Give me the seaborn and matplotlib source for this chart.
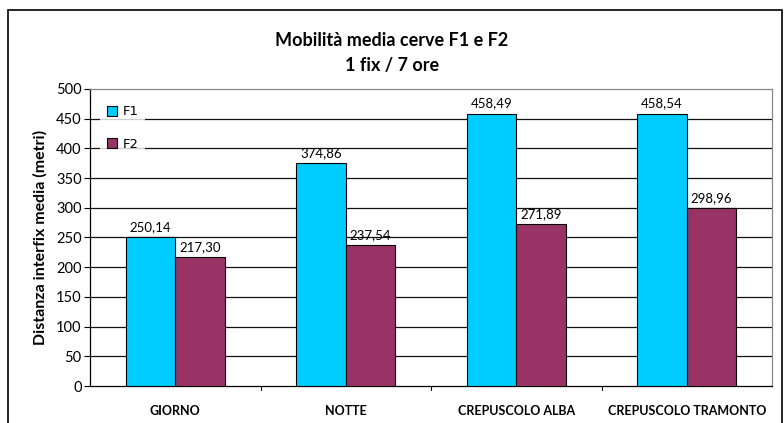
import pandas as pd
import matplotlib.pyplot as plt
import seaborn as sns
from matplotlib.patches import Rectangle

# data
categorie = ["GIORNO", "NOTTE", "CREPUSCOLO ALBA", "CREPUSCOLO TRAMONTO"]
f1 = [250.14, 374.86, 458.49, 458.54]
f2 = [217.30, 237.54, 271.89, 298.96]
serie = ["F1", "F2"]
colori = {"F1": "#00CCFF", "F2": "#993366"}

df = pd.DataFrame({
    "Periodo": categorie * 2,
    "Serie": ["F1"] * len(categorie) + ["F2"] * len(categorie),
    "Distanza": f1 + f2,
})

sns.set_theme(style="white")
plt.rcParams["font.family"] = ["Lato", "DejaVu Sans"]
plt.rcParams["text.color"] = "black"
plt.rcParams["axes.labelcolor"] = "black"
plt.rcParams["xtick.color"] = "black"
plt.rcParams["ytick.color"] = "black"

fig = plt.figure(figsize=(7.84, 4.23), dpi=100)
ax = fig.add_axes([90 / 784, 1 - 386 / 423, (772 - 90) / 784, (386 - 89) / 423])

sns.barplot(data=df, x="Periodo", y="Distanza", hue="Serie", hue_order=serie,
            order=categorie, palette=colori, width=0.58, gap=0, saturation=1,
            edgecolor="black", linewidth=0.8, ax=ax, zorder=3)

# labels above the bars
for cont in ax.containers:
    for bar in cont:
        h = bar.get_height()
        ax.text(bar.get_x() + bar.get_width() / 2, h + 7,
                f"{h:.2f}".replace(".", ","), ha="center", va="bottom",
                fontsize=9.5, color="black")

ax.set_ylim(0, 500)
ax.set_xlim(-0.5, 3.5)
ax.set_yticks(range(0, 501, 50))
for y in range(50, 451, 50):
    ax.axhline(y, color="#111111", linewidth=0.9, zorder=1)

ax.tick_params(axis="y", length=4, width=0.8, labelsize=10.5, pad=2, left=True)
ax.tick_params(axis="x", length=0, labelsize=9, pad=14)
for lab in ax.get_xticklabels():
    lab.set_fontweight("bold")
# category separator ticks
for xb in [0.5, 1.5, 2.5]:
    ax.plot([xb, xb], [0, -6], color="black", linewidth=0.8, clip_on=False)

ax.spines["left"].set_color("black")
ax.spines["bottom"].set_color("black")
ax.spines["top"].set_color("#888888")
ax.spines["right"].set_color("#888888")
for s in ax.spines.values():
    s.set_linewidth(0.9)

ax.set_xlabel("")
ax.set_ylabel("Distanza interfix media (metri)", fontsize=11.5, fontweight="bold", labelpad=6)

leg = ax.legend(loc="upper left", bbox_to_anchor=(0.005, 0.99), frameon=True,
                facecolor="white", edgecolor="white", fontsize=9.5,
                handlelength=0.8, handleheight=0.8, labelspacing=1.5,
                borderpad=0.5, handletextpad=0.4)
leg.get_frame().set_linewidth(0)
for t in leg.get_texts():
    t.set_family("DejaVu Sans")
for h in leg.legend_handles:
    h.set_edgecolor("black")
    h.set_linewidth(0.8)
leg.set_zorder(5)

fig.text(0.5, 1 - 40 / 423, "Mobilità media cerve F1 e F2", ha="center", va="center",
         fontsize=13, fontweight="bold")
fig.text(0.5, 1 - 66 / 423, "1 fix / 7 ore", ha="center", va="center",
         fontsize=13, fontweight="bold")

fig.patches.append(Rectangle((8 / 784, -0.05), (782 - 8) / 784, 1.05 - 10 / 423,
                             transform=fig.transFigure, fill=False,
                             edgecolor="black", linewidth=1.2))

fig.savefig("out.png", dpi=100)
